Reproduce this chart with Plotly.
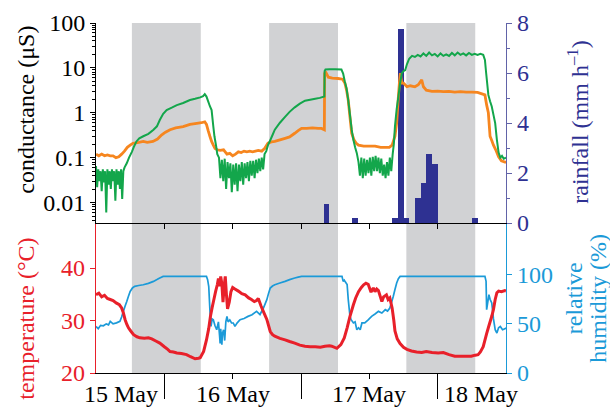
import plotly.graph_objects as go

# ---------------- data (hours since 15 May 12:00) ----------------
night_start = [6.3, 30.4, 54.5]
night_end = [18.4, 42.5, 66.6]

rain_t = [40.5, 45.5, 52.5, 53.5, 54.5, 56.5, 57.5, 58.5, 59.5, 66.5]
rain_mm = [0.75, 0.2, 0.2, 7.75, 0.2, 1.0, 1.6, 2.75, 2.35, 0.2]

green_t = [0.0, 0.2, 0.4, 0.6, 0.8, 1.0, 1.2, 1.4, 1.6, 1.8, 2.0, 2.2, 2.4, 2.6, 2.8, 3.0, 3.2, 3.4, 3.6, 3.8,
           4.0, 4.2, 4.4, 4.6, 4.8, 5.0,
           5.4, 5.8, 6.3, 6.7, 7.1, 7.6, 8.3, 9.2, 10.1, 10.7, 11.2, 11.8, 12.4, 13.3, 14.2, 15.3, 16.5, 17.4,
           18.3, 18.8, 19.1, 19.4, 19.7, 20.0, 20.3, 20.6, 20.8, 21.1, 21.3,
           21.6, 21.85, 22.1, 22.35, 22.6, 22.85, 23.1, 23.35, 23.6, 23.85, 24.1, 24.35, 24.6, 24.85, 25.1,
           25.35, 25.6, 25.85, 26.1, 26.35, 26.6, 26.85, 27.1, 27.35, 27.6, 27.85, 28.1, 28.35, 28.6, 28.85,
           29.1, 29.35, 29.6,
           29.9, 30.2, 30.6, 31.0, 31.4, 32.3, 33.2, 34.0, 34.9, 35.8, 36.7, 37.6, 38.5, 39.3, 40.1, 40.15,
           40.3, 41.0, 42.0, 43.1, 43.4, 43.7, 44.0, 44.3, 44.6, 44.9, 45.2, 45.5, 45.8,
           46.1, 46.35, 46.6, 46.85, 47.1, 47.35, 47.6, 47.85, 48.1, 48.35, 48.6, 48.85, 49.1, 49.35, 49.6,
           49.85, 50.1, 50.35, 50.6, 50.85, 51.1, 51.35, 51.6, 51.85, 52.1,
           52.3, 52.5, 52.8, 53.1, 53.4, 53.7, 54.0, 54.3, 54.6,
           55.0, 55.5, 56.0, 56.5, 57.0, 57.5, 58.0, 58.5, 59.0, 59.5, 60.0, 60.5, 61.0, 61.5, 62.0, 62.5,
           63.0, 63.5, 64.0, 64.5, 65.0, 65.5, 66.0, 66.5, 67.0, 67.5, 68.0,
           68.3, 68.5, 68.9, 69.2, 69.5, 69.8, 70.1, 70.4, 70.7, 71.0, 71.3, 71.6, 72.0]
green_us = [0.065, 0.022, 0.055, 0.03, 0.05, 0.018, 0.055, 0.028, 0.05, 0.006, 0.055, 0.025, 0.05, 0.02,
            0.055, 0.03, 0.05, 0.011, 0.055, 0.025, 0.05, 0.02, 0.055, 0.012, 0.05, 0.06,
            0.075, 0.1, 0.135, 0.18, 0.23, 0.27, 0.3, 0.34, 0.42, 0.5, 0.69, 0.95, 1.15, 1.3, 1.48, 1.65,
            1.93, 2.05, 2.2, 2.35, 2.6, 2.3, 1.8, 1.4, 1.15, 0.5, 0.3, 0.18, 0.12,
            0.1, 0.035, 0.09, 0.03, 0.095, 0.02, 0.08, 0.035, 0.075, 0.017, 0.07, 0.025, 0.075, 0.018, 0.07,
            0.03, 0.08, 0.025, 0.075, 0.035, 0.08, 0.03, 0.085, 0.04, 0.085, 0.035, 0.09, 0.045, 0.095,
            0.05, 0.1, 0.055, 0.12,
            0.14, 0.19, 0.245, 0.32, 0.42, 0.6, 0.81, 1.05, 1.32, 1.6, 1.86, 1.95, 2.05, 2.15, 2.3, 8.5,
            9.2, 9.3, 9.3, 9.2, 7.5, 4.9, 3.5, 1.9, 0.9, 0.42, 0.25, 0.17, 0.126,
            0.08, 0.04, 0.1, 0.035, 0.095, 0.04, 0.09, 0.045, 0.1, 0.04, 0.105, 0.05, 0.11, 0.05, 0.1,
            0.045, 0.095, 0.04, 0.07, 0.035, 0.08, 0.04, 0.1, 0.05, 0.12,
            0.2, 0.5, 1.2, 2.3, 4.5, 7.6, 8.5, 8.9, 12,
            16, 18.5, 17.5, 19.5, 18, 21, 18.5, 22, 19, 20.5, 18, 21, 18.5, 20, 18.5, 21.5,
            19, 22, 19.5, 21, 19, 21.5, 19.5, 20.5, 19.5, 20.5, 19.5,
            15, 8, 2.5, 1.8, 1.38, 0.9, 0.59, 0.25, 0.13, 0.1, 0.11, 0.095, 0.1]

orange_t = [0, 0.5, 1, 1.5, 2, 2.5, 3, 3.5, 4, 4.5, 5, 5.5, 6, 6.5, 7, 7.5, 8.3, 9, 10, 10.8,
            11.5, 12.2, 13, 14, 15.3, 16.5, 17.7, 18.5, 19.1, 19.4, 19.7, 20.0, 20.3, 20.6, 20.9, 21.3,
            21.8, 22.4, 23.0, 23.5, 24.0, 24.5, 25, 25.5, 26, 26.5, 27, 27.5, 28, 28.5, 29.1, 29.6, 30.2,
            30.8, 31.4, 32.3, 33.2, 34.0, 34.9, 35.5, 36.1, 37, 38, 39, 39.6, 40.1, 40.15, 40.3, 40.8,
            41.5, 42.5, 43.3, 43.7, 44.0, 44.3, 44.6, 44.9, 45.3, 45.7, 46.1, 47, 48, 49, 50, 51, 51.5,
            52.0, 52.5, 52.8, 53.1, 53.3, 53.45, 53.7, 54.0, 54.6, 55.2, 56.0, 56.6, 57.2, 57.5, 58, 59,
            60, 61, 62, 63, 64, 65, 66, 67, 68.3, 68.6, 68.9, 69.2, 69.5, 69.8, 70.2, 70.7, 71.2, 71.8, 72]
orange_us = [0.12, 0.11, 0.12, 0.11, 0.115, 0.11, 0.11, 0.1, 0.105, 0.12, 0.14, 0.17, 0.19, 0.21, 0.215,
             0.22, 0.23, 0.22, 0.23, 0.26, 0.32, 0.37, 0.42, 0.46, 0.49, 0.55, 0.58, 0.6, 0.63, 0.55,
             0.4, 0.3, 0.23, 0.19, 0.16, 0.15, 0.145, 0.15, 0.12, 0.125, 0.11, 0.12, 0.135, 0.13, 0.14,
             0.135, 0.14, 0.135, 0.14, 0.145, 0.14, 0.16, 0.21, 0.225, 0.23, 0.25, 0.27, 0.29, 0.35, 0.4,
             0.45, 0.45, 0.46, 0.45, 0.45, 0.42, 7.5, 8.2, 6.2, 5.9, 5.8, 5.6, 4.6, 3.2, 1.9, 0.8, 0.35,
             0.25, 0.21, 0.19, 0.18, 0.18, 0.18, 0.17, 0.17, 0.17, 0.19, 0.3, 0.6, 2.3, 5, 7.6, 4.6, 4.6,
             3.8, 4.0, 3.8, 4.2, 5.4, 3.8, 3.2, 3.0, 3.05, 2.95, 3.0, 2.9, 2.95, 2.9, 2.9, 2.85, 2.5, 1.5,
             1.0, 0.3, 0.24, 0.19, 0.15, 0.105, 0.085, 0.08, 0.08]

temp_t = [0, 0.5, 1, 1.5, 2, 2.5, 3, 3.6, 4.1, 4.5, 4.8, 5.1, 5.4, 5.7, 6.1, 6.6, 7.2, 7.7, 8.5, 9.2,
          9.8, 10.5, 11.2, 12, 12.6, 13, 13.6, 14.2, 15, 15.9, 16.6, 17.4, 18, 18.3, 18.9, 19.4, 19.8,
          20.1, 20.4, 20.7, 21.0, 21.3, 21.5, 21.7, 21.9, 22.1, 22.3, 22.5, 22.7, 22.9, 23.1, 23.4, 23.7,
          24.0, 24.4, 25, 25.6, 26.2, 26.8, 27.3, 27.8, 28.2, 28.5, 29.0, 29.4, 30.0, 30.6, 31.0, 31.4,
          32.3, 33.2, 34.0, 34.9, 35.8, 36.7, 37.6, 38.5, 39.4, 40.2, 41.0, 41.4, 42.3, 43.0, 43.6, 44.1,
          44.6, 45.2, 45.6, 46.1, 46.6, 47.0, 47.4, 47.8, 48.3, 48.7, 49.0, 49.3, 49.6, 50.2, 50.5, 51.0,
          51.3, 51.6, 52.0, 52.3, 52.5, 52.9, 53.4, 54.0, 54.6, 55.4, 56.3, 57.2, 58.0, 59.0, 60.1, 61,
          62, 63, 64, 65, 65.9, 66.6, 67.1, 67.5, 68.0, 68.6, 69.0, 69.5, 69.8, 70.1, 70.4, 70.7, 71.2,
          71.8, 72]
temp_c = [34.9, 35.2, 34.5, 34.8, 34.2, 34.0, 33.8, 33.3, 33.0, 32.4, 31.5, 30.2, 29.3, 28.6, 28.0, 27.3,
          26.9, 26.7, 26.6, 26.7, 26.5, 26.1, 25.7, 25.0, 24.5, 24.1, 24.0, 23.8, 23.7, 23.5, 23.1, 22.7,
          22.8, 22.9, 24.1, 26.3, 28.5, 30.8, 32.5, 34.0, 35.5, 36.8, 38.0, 36.5, 38.4, 37.0, 33.5, 36.5,
          38.4, 35.0, 32.2, 33.5, 35.5, 36.3, 36.0, 35.6, 35.1, 34.9, 34.3, 34.0, 33.6, 33.8, 34.2, 32.7,
          31.7, 30.2, 27.9, 27.3, 27.0, 26.6, 26.3, 26.0, 25.7, 25.3, 25.1, 25.0, 25.0, 24.9, 25.1, 25.2,
          25.1, 24.7, 25.4, 26.7, 28.6, 30.8, 33.0, 34.3, 35.5, 36.3, 36.8, 37.1, 36.9, 35.4, 36.2, 35.5,
          36.0, 35.7, 33.6, 34.5, 34.9, 34.0, 34.3, 32.4, 30.0, 28.0, 26.5, 25.6, 24.9, 24.5, 24.2, 24.0,
          23.9, 24.1, 23.9, 23.8, 23.9, 23.5, 23.2, 23.2, 23.2, 23.2, 23.4, 23.5, 24.0, 25.0, 27.5, 29.0,
          30.8, 32.1, 34.0, 35.3, 35.6, 35.5, 35.7, 35.6]

rh_t = [0, 0.4, 0.8, 1.3, 1.8, 2.2, 2.5, 3.0, 3.6, 4.2, 4.5, 4.8, 5.1, 5.4, 5.7, 6.0, 6.4, 6.8, 7.5, 8.3,
        9.2, 10.1, 10.7, 11.2, 11.8, 19.4, 19.6, 19.8, 20.0, 20.2, 20.4, 20.6, 20.9, 21.2, 21.5, 21.7,
        21.8, 21.9, 22.1, 22.2, 22.4, 22.6, 22.8, 23.0, 23.2, 23.5, 23.8, 24.1, 24.4, 24.8, 25.3, 26.0,
        26.7, 27.4, 28.2, 28.8, 29.4, 30.0, 30.3, 30.6, 31.0, 31.4, 32.3, 33.2, 34.0, 34.9, 35.5, 36.1,
        43.2, 43.4, 43.6, 43.8, 44.1, 44.3, 44.6, 44.8, 45.2, 45.5, 45.8, 46.1, 46.4, 46.7, 47.2, 47.8,
        48.4, 49.0, 49.6, 50.2, 50.8, 51.2, 51.6, 52.2, 52.5, 52.8, 53.1, 53.4, 68.3, 68.5, 68.6, 68.8,
        69.0, 69.2, 69.5, 69.8, 70.1, 70.4, 70.7, 71.0, 71.4, 71.8, 72]
rh_pct = [47.4, 45, 48.5, 48, 50, 49, 52.5, 50, 51, 52.5, 57, 62.7, 68, 72.8, 78, 83, 86.5, 88.1, 89, 89.8,
          91.2, 93.2, 95, 96.6, 98.3, 98.3, 95, 88, 64.4, 47.4, 55, 54.2, 48, 44, 52, 38, 30, 45, 28.8, 40,
          44, 33, 52, 57.6, 52, 54, 51, 50.9, 47.4, 51, 54.2, 55.5, 57.6, 59.3, 62.7, 59.5, 66.1, 74.6, 81,
          86.4, 88.5, 89.8, 91.5, 93.2, 95, 96.6, 97.5, 98.3, 98.3, 93.2, 94.5, 92.5, 90, 74.6, 57.6, 54.2,
          50.9, 52, 44, 46, 44, 50.9, 50.9, 54, 57.6, 60, 62.7, 61, 64.4, 63, 66.1, 77.9, 85, 91.6, 96,
          98.3, 98.3, 93.2, 64.4, 72, 79.6, 75, 71.2, 55, 44, 40.7, 46, 47.4, 44, 45, 46]

day_labels = ["15 May", "16 May", "17 May", "18 May"]
day_label_pos = [4.4, 24, 48, 67.6]

# ---------------- figure ----------------
FONT = "Liberation Serif, 'Times New Roman', Times, serif"
GREEN = "#13a64b"
ORANGE = "#f6861f"
RED = "#e8202a"
BLUE = "#1b9ad8"
NAVY = "#2e3192"
NAVY_AX = "#6163a8"
GREY = "#d1d2d4"

fig = go.Figure()
fig.add_trace(go.Bar(x=rain_t, y=rain_mm, width=1.0, marker=dict(color=NAVY, line=dict(width=0)),
                     xaxis="x2", yaxis="y2"))
fig.add_trace(go.Scatter(x=orange_t, y=orange_us, mode="lines",
                         line=dict(color=ORANGE, width=2.8, simplify=False),
                         xaxis="x2", yaxis="y3"))
fig.add_trace(go.Scatter(x=green_t, y=green_us, mode="lines",
                         line=dict(color=GREEN, width=2.0, simplify=False),
                         xaxis="x2", yaxis="y3"))
fig.add_trace(go.Scatter(x=rh_t, y=rh_pct, mode="lines",
                         line=dict(color=BLUE, width=1.7, simplify=False),
                         xaxis="x", yaxis="y"))
fig.add_trace(go.Scatter(x=temp_t, y=temp_c, mode="lines",
                         line=dict(color=RED, width=3.0, simplify=False),
                         xaxis="x", yaxis="y4"))

for s, e in zip(night_start, night_end):
    fig.add_shape(type="rect", xref="x", yref="paper", x0=s, x1=e, y0=0, y1=1,
                  fillcolor=GREY, line=dict(width=0), layer="below")

split = 150 / 350
tf = dict(family=FONT, size=24)

log_minor = [m * 10 ** e for e in range(-3, 2) for m in range(2, 10)]

fig.update_layout(
    width=610, height=408, margin=dict(l=96, r=104, t=23, b=35, autoexpand=False),
    paper_bgcolor="white", plot_bgcolor="rgba(0,0,0,0)", showlegend=False,
    font=dict(family=FONT, size=24, color="black"),
    xaxis=dict(domain=[0, 1], anchor="y", range=[0, 72], showgrid=False, zeroline=False,
               automargin=False,
               showline=True, linecolor="black", linewidth=1,
               tickmode="array", tickvals=[12, 36, 60], ticks="outside", ticklen=25,
               tickcolor="black", showticklabels=False,
               minor=dict(tickvals=[24, 48], ticks="outside", ticklen=5, tickcolor="black")),
    xaxis2=dict(domain=[0, 1], anchor="y2", matches="x", range=[0, 72], showgrid=False,
                automargin=False,
                zeroline=False, showline=True, linecolor="black", linewidth=1,
                tickmode="array", tickvals=[12, 24, 36, 48, 60], ticks="outside", ticklen=5,
                tickcolor="black", showticklabels=False),
    yaxis=dict(domain=[0, split], anchor="x", side="right", range=[0, 150 / 0.983],
               automargin=False,
               showgrid=False, zeroline=False, showline=True, linecolor=BLUE, linewidth=1.2,
               tickmode="array", tickvals=[0, 50, 100], ticks="outside", ticklen=5,
               tickcolor=BLUE, tickfont=dict(tf, color=BLUE)),
    yaxis4=dict(overlaying="y", anchor="x", side="left", range=[20, 20 + 150 / 5.25],
                automargin=False,
                showgrid=False, zeroline=False, showline=True, linecolor=RED, linewidth=1.2,
                tickmode="array", tickvals=[20, 30, 40], ticks="outside", ticklen=5,
                tickcolor=RED, tickfont=dict(tf, color=RED)),
    yaxis2=dict(domain=[split, 1], anchor="x2", side="right", range=[0, 8],
                automargin=False,
                showgrid=False, zeroline=False, showline=True, linecolor=NAVY_AX, linewidth=1.2,
                tickmode="array", tickvals=[0, 2, 4, 6, 8], ticks="outside", ticklen=5,
                tickcolor=NAVY_AX, tickfont=dict(tf, color=NAVY),
                minor=dict(tickvals=[1, 3, 5, 7], ticks="outside", ticklen=3, tickcolor=NAVY_AX)),
    yaxis3=dict(overlaying="y2", anchor="x2", side="left", type="log", range=[-2.455, 2],
                automargin=False,
                showgrid=False, zeroline=False, showline=True, linecolor="black", linewidth=1,
                tickmode="array", tickvals=[0.01, 0.1, 1, 10, 100],
                ticktext=["0.01", "0.1", "1", "10", "100"], ticks="outside", ticklen=5,
                tickcolor="black", tickfont=dict(tf, color="black"),
                minor=dict(tickvals=log_minor, ticks="outside", ticklen=3, tickcolor="black")),
    bargap=0,
)


def px_x(px):
    return (px - 96) / 410


def px_y(py):
    return (373.3 - py) / 350


titles = [
    ("conductance (μS)", 26, 110, "black"),
    ("temperature (°C)", 26, 319, RED),
    ("rainfall (mm h<sup>–1</sup>)", 578, 123, NAVY),
    ("relative", 573.5, 299, BLUE),
    ("humidity (%)", 598, 299, BLUE),
]
for txt, x, y, col in titles:
    fig.add_annotation(text=txt, xref="paper", yref="paper", x=px_x(x), y=px_y(y),
                       textangle=-90, showarrow=False, xanchor="center", yanchor="middle",
                       borderpad=0,
                       font=dict(family=FONT, size=24, color=col))

for lab, pos in zip(day_labels, day_label_pos):
    fig.add_annotation(text=lab, xref="x", yref="paper", x=pos, y=px_y(394),
                       showarrow=False, xanchor="center", yanchor="middle", borderpad=0,
                       font=dict(family=FONT, size=24, color="black"))

fig.write_html("out.html", config={"displayModeBar": False},
               post_script="document.body.style.margin='0';document.body.style.padding='0';")
